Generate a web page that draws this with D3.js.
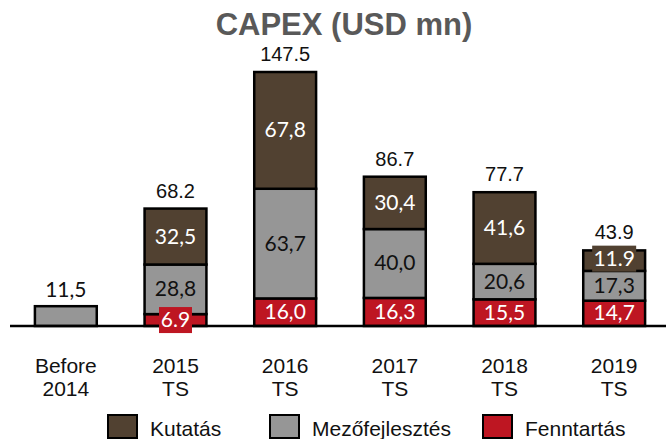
<!DOCTYPE html>
<html><head><meta charset="utf-8">
<script src="https://cdn.jsdelivr.net/npm/d3@7"></script>
<style>body{margin:0;background:#fff}svg{display:block}</style>
</head><body>
<svg id="c" width="666" height="439"></svg>
<script>
const categories = [["Before","2014"],["2015","TS"],["2016","TS"],["2017","TS"],["2018","TS"],["2019","TS"]];
const seriesNames = ["Fenntartás","Mezőfejlesztés","Kutatás"];
const fenntartas = [0, 6.9, 16.0, 16.3, 15.5, 14.7];
const mezofejlesztes = [11.5, 28.8, 63.7, 40.0, 20.6, 17.3];
const kutatas = [0, 32.5, 67.8, 30.4, 41.6, 11.9];
const totalLabels = ["11,5", "68.2", "147.5", "86.7", "77.7", "43.9"];
const boxedLabels = {"Fenntartás-1": "6.9", "Kutatás-5": "11.9"};
const legendOrder = ["Kutatás","Mezőfejlesztés","Fenntartás"];

const colors = {"Kutatás":"#514131","Mezőfejlesztés":"#969696","Fenntartás":"#be1622"};
const textColors = {"Kutatás":"#ffffff","Mezőfejlesztés":"#111111","Fenntartás":"#ffffff"};
const ARIAL = "'Liberation Sans', Arial, sans-serif";
const LATO = "Lato, sans-serif";

const svg = d3.select("#c");
const rows = categories.map((c,i)=>({i, "Fenntartás":fenntartas[i], "Mezőfejlesztés":mezofejlesztes[i], "Kutatás":kutatas[i]}));
const stack = d3.stack().keys(seriesNames)(rows);

const x = d3.scaleBand().domain(d3.range(categories.length)).range([11, 669]).paddingInner(0.436).paddingOuter(0.218);
const y = d3.scaleLinear().domain([0, 150]).range([326, 326 - 150*1.722]);

// title
svg.append("text").attr("x", 344).attr("y", 35).attr("text-anchor","middle")
  .attr("font-family", ARIAL).attr("font-weight","bold")
  .attr("font-size", 31).attr("fill","#595959").text("CAPEX (USD mn)");

// bars
const g = svg.append("g");
stack.forEach(layer=>{
  const key = layer.key;
  layer.forEach((d,i)=>{
    if (d[1]-d[0] <= 0) return;
    g.append("rect").attr("x", x(i)).attr("width", x.bandwidth())
      .attr("y", y(d[1])).attr("height", y(d[0]) - y(d[1]))
      .attr("fill", colors[key]).attr("stroke","#000").attr("stroke-width",2.5);
  });
});

// axis line
svg.append("line").attr("x1",10).attr("x2",666).attr("y1",y(0)).attr("y2",y(0))
  .attr("stroke","#000").attr("stroke-width",2.5);

// segment labels
const lab = svg.append("g").attr("font-family", LATO).attr("font-size",21).attr("text-anchor","middle");
stack.forEach(layer=>{
  const key = layer.key;
  layer.forEach((d,i)=>{
    const v = d[1]-d[0];
    if (v <= 0 || (key==="Mezőfejlesztés" && i===0)) return;
    const cx = x(i) + x.bandwidth()/2;
    let cy = (y(d[0]) + y(d[1]))/2;
    const bk = key + "-" + i;
    let txt = v.toFixed(1).replace(".", ",");
    if (boxedLabels[bk]) {
      txt = boxedLabels[bk];
      if (key === "Kutatás") cy -= 2;
      const w = txt.length > 3 ? 44 : 33;
      lab.append("rect").attr("x", cx - w/2).attr("y", cy - 13).attr("width", w).attr("height", 26).attr("fill", colors[key]);
    }
    lab.append("text").attr("x", cx).attr("y", cy + 7).attr("fill", textColors[key]).text(txt);
  });
});

// totals
totalLabels.forEach((t,i)=>{
  const top = y(fenntartas[i] + mezofejlesztes[i] + kutatas[i]);
  const cx = x(i) + x.bandwidth()/2;
  if (i === 0) {
    svg.append("text").attr("x", cx).attr("y", top - 9).attr("text-anchor","middle")
      .attr("font-family", LATO).attr("font-size",21).attr("fill","#111").text(t);
  } else {
    svg.append("text").attr("x", cx).attr("y", top - 11).attr("text-anchor","middle")
      .attr("font-family", ARIAL).attr("font-size",20).attr("fill","#111").text(t);
  }
});

// category labels
categories.forEach((c,i)=>{
  const cx = x(i) + x.bandwidth()/2;
  c.forEach((line,j)=>{
    svg.append("text").attr("x", cx).attr("y", 373 + j*23).attr("text-anchor","middle")
      .attr("font-family", ARIAL).attr("font-size",21).attr("fill","#111").text(line);
  });
});

// legend
const legendX = [108, 270, 483];
legendOrder.forEach((k,i)=>{
  svg.append("rect").attr("x", legendX[i]).attr("y", 415).attr("width", 29).attr("height", 23)
    .attr("fill", colors[k]).attr("stroke","#000").attr("stroke-width",2);
  svg.append("text").attr("x", legendX[i] + 42).attr("y", 436)
    .attr("font-family", ARIAL).attr("font-size",21).attr("fill","#111").text(k);
});
</script>
</body></html>
